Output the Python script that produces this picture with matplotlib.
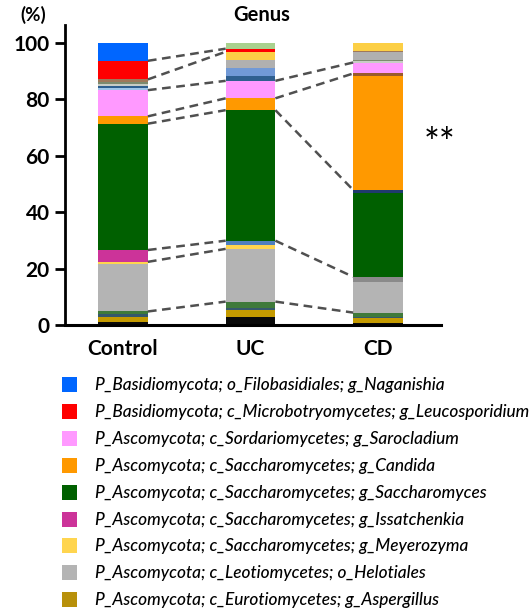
import matplotlib
matplotlib.use("Agg")
import numpy as np
import matplotlib.pyplot as plt
from matplotlib.patches import Rectangle

# Relative abundance (%) of fungal genera, stacked bottom -> top
groups = ["Control", "UC", "CD"]

taxa_colors = [
    "#0a0a0a",  # other
    "#c49a00",  # g_Aspergillus
    "#35586b",  # other
    "#3f7a3a",  # other
    "#b4b4b4",  # o_Helotiales
    "#ffd54f",  # g_Meyerozyma
    "#8a8a8a",  # other
    "#cc3399",  # g_Issatchenkia
    "#4f7fbf",  # other
    "#006000",  # g_Saccharomyces
    "#1f3a6e",  # other
    "#ff9900",  # g_Candida
    "#9a5a2a",  # other
    "#ff99ff",  # g_Sarocladium
    "#9fc5e8",  # other
    "#2f5f8f",  # other
    "#7199d6",  # other
    "#c8ccc4",  # other
    "#7d8a6e",  # other
    "#b0b0b0",  # other
    "#a0785a",  # other
    "#fccf45",  # other
    "#ff0000",  # g_Leucosporidium
    "#0066ff",  # g_Naganishia
    "#a9d18e",  # other
]

control = [1.1, 1.6, 1.1, 1.0, 17.0, 0.6, 0.0, 4.2, 0.0, 44.8, 0.0, 2.6, 0.0,
           9.3, 0.8, 0.8, 0.0, 0.5, 0.9, 0.0, 0.8, 0.0, 6.6, 6.3, 0.0]
uc = [2.7, 2.6, 0.6, 2.4, 18.7, 1.4, 0.0, 0.0, 1.5, 46.3, 0.0, 4.2, 0.0,
      6.2, 0.0, 1.7, 2.9, 0.0, 0.0, 2.8, 0.0, 2.9, 1.1, 0.0, 2.0]
cd = [0.6, 1.8, 0.6, 1.4, 10.7, 0.3, 1.7, 0.0, 0.0, 29.6, 1.2, 40.5, 0.8,
      3.9, 0.0, 0.0, 0.0, 0.6, 0.3, 2.7, 0.5, 2.8, 0.0, 0.0, 0.0]

# boundaries joined by dashed lines (index of the taxon whose bottom edge is used)
links = [
    [(23, 23), (22, 22), (14, 14), (13, 13), (11, 11), (9, 9), (7, 5), (4, 4)],
    [(14, 14), (13, 13), (11, 11), (9, 9), (4, 4)],
]

legend_labels = [
    "P_Basidiomycota; o_Filobasidiales; g_Naganishia",
    "P_Basidiomycota; c_Microbotryomycetes; g_Leucosporidium",
    "P_Ascomycota; c_Sordariomycetes; g_Sarocladium",
    "P_Ascomycota; c_Saccharomycetes; g_Candida",
    "P_Ascomycota; c_Saccharomycetes; g_Saccharomyces",
    "P_Ascomycota; c_Saccharomycetes; g_Issatchenkia",
    "P_Ascomycota; c_Saccharomycetes; g_Meyerozyma",
    "P_Ascomycota; c_Leotiomycetes; o_Helotiales",
    "P_Ascomycota; c_Eurotiomycetes; g_Aspergillus",
]
legend_colors = ["#0066ff", "#ff0000", "#ff99ff", "#ff9900", "#006000",
                 "#cc3399", "#ffd54f", "#b4b4b4", "#b8900a"]

values = np.array([control, uc, cd])
bottoms = np.hstack([np.zeros((3, 1)), np.cumsum(values, axis=1)])

plt.rcParams["font.family"] = ["Lato", "DejaVu Sans"]

W, H = 532, 615
fig = plt.figure(figsize=(W / 100, H / 100), dpi=100)
ax = fig.add_axes([65 / W, 1 - 325 / H, 376 / W, 300 / H])

x = np.arange(len(groups))
bw = 0.39
for i in range(values.shape[1]):
    ax.bar(x, values[:, i], bottom=bottoms[:, i], width=bw,
           color=taxa_colors[i], edgecolor="none", linewidth=0)

# dashed connectors between neighbouring bars
for g, pairs in enumerate(links):
    for a, b in pairs:
        ax.plot([x[g] + bw / 2, x[g + 1] - bw / 2],
                [bottoms[g, a], bottoms[g + 1, b]],
                color="#505050", lw=1.8, ls=(0, (3.5, 2.2)), zorder=3)

ax.set_xlim(-0.455, 2.494)
ax.set_ylim(0, 106.4)
ax.set_yticks([0, 20, 40, 60, 80, 100])
ax.set_xticks(x)
ax.set_xticklabels(groups, fontsize=15, fontweight="bold")
ax.tick_params(axis="x", length=0, pad=10)
ax.tick_params(axis="y", length=7, width=2, pad=4, labelsize=15)
for lab in ax.get_yticklabels():
    lab.set_fontweight("bold")
for s in ["top", "right"]:
    ax.spines[s].set_visible(False)
ax.spines["left"].set_linewidth(2)
ax.spines["bottom"].set_linewidth(2.2)

fig.text(33 / W, 1 - 15 / H, "(%)", ha="center", va="center",
         fontsize=13.5, fontweight="bold")
fig.text(262 / W, 1 - 15 / H, "Genus", ha="center", va="center",
         fontsize=14.5, fontweight="bold")
fig.text(440 / W, 1 - 145 / H, "**", ha="center", va="center", fontsize=27)

# legend
for k, (lab, col) in enumerate(zip(legend_labels, legend_colors)):
    yc = 385 + k * 26.9
    fig.add_artist(Rectangle((62 / W, 1 - (yc + 7) / H), 15 / W, 15 / H,
                             transform=fig.transFigure, color=col, lw=0))
    fig.text(95 / W, 1 - yc / H, lab, ha="left", va="center",
             fontsize=12.4, style="italic", fontweight="medium")

fig.savefig("out.png", dpi=100)
